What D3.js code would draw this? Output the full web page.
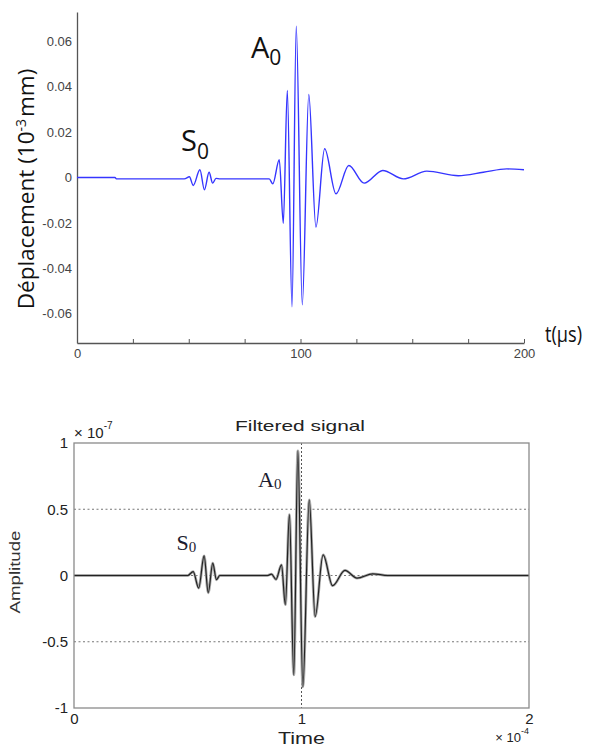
<!DOCTYPE html>
<html>
<head>
<meta charset="utf-8">
<script src="https://cdn.jsdelivr.net/npm/d3@7"></script>
<style>
  html, body { margin: 0; padding: 0; background: #fff; }
  svg { display: block; }
</style>
</head>
<body>
<svg id="chart" width="592" height="747"></svg>
<script>
// ---------- Data: top chart (simulated displacement, t in µs, 10^-3 mm) ----------
const topTime = [0, 17, 17.6, 48, 50.3, 52.0, 55.0, 57.0, 59.1, 60.7, 62.2, 64, 86,
  87.6, 90.5, 92.3, 94.1, 96.2, 98.1, 100.8, 103.7, 106.9, 110.8, 115.9, 121.6,
  128.5, 136.8, 146.0, 156.5, 170.6, 181.8, 192.3, 200];
const topDisp = [0, 0, -0.0006, -0.0006, 0.0003, -0.0035, 0.0034, -0.0054, 0.0023, -0.0025, -0.0004, -0.0006, -0.0006,
  -0.0028, 0.0078, -0.0202, 0.0384, -0.057, 0.0667, -0.0561, 0.0366, -0.0219, 0.0127, -0.0072, 0.0053,
  -0.0025, 0.0031, -0.0006, 0.0028, 0.0008, 0.0023, 0.0038, 0.0034];
const topYTicks = [0.06, 0.04, 0.02, 0, -0.02, -0.04, -0.06];
const topYTickLabels = ["0.06", "0.04", "0.02", "0", "-0.02", "-0.04", "-0.06"];
const topXTicks = [0, 25, 50, 75, 100, 125, 150, 175, 200];
const topXTickLabels = ["0", "", "", "", "100", "", "", "", "200"];

// ---------- Data: bottom chart (filtered signal, time in µs, amplitude in 10^-7) ----------
const botTime = [0, 50, 52.4, 54.8, 57.2, 59.0, 61.0, 62.6, 64.1, 85, 86.8, 88.8, 91.2, 92.9,
  94.7, 96.6, 98.4, 100.6, 103.4, 106.0, 109.5, 113.7, 119.1, 124.4, 131.3, 138, 200];
const botAmp = [0, 0, 0.03, -0.095, 0.148, -0.13, 0.093, -0.032, 0, 0, 0.01, -0.03, 0.08, -0.22,
  0.46, -0.75, 0.94, -0.84, 0.57, -0.31, 0.156, -0.077, 0.038, -0.02, 0.013, 0, 0];
const botYTicks = [1, 0.5, 0, -0.5, -1];
const botYTickLabels = ["1", "0.5", "0", "-0.5", "-1"];
const botXTicks = [0, 100, 200];
const botXTickLabels = ["0", "1", "2"];
const botGridY = [0.5, 0, -0.5];
const botGridX = [100];

const svg = d3.select("#chart");

// ================= TOP CHART =================
const xTop = d3.scaleLinear().domain([0, 200]).range([77, 524]);
const yTop = d3.scaleLinear().domain([-0.073, 0.073]).range([343, 12]);

const gTop = svg.append("g");

// y axis
const yAxisTop = d3.axisLeft(yTop).tickValues(topYTicks)
  .tickFormat((d, i) => topYTickLabels[i]).tickSize(0).tickPadding(5).tickSizeOuter(0);
const gya = gTop.append("g").attr("transform", `translate(${xTop(0)},0)`).call(yAxisTop);
gya.select(".domain").attr("stroke", "#555").attr("stroke-width", 1.3);
gya.selectAll("text").attr("font-family", "Liberation Sans, Arial, sans-serif")
  .attr("font-size", 13).attr("fill", "#444");

// x axis (ticks pointing up)
const xAxisTop = d3.axisBottom(xTop).tickValues(topXTicks)
  .tickFormat((d, i) => topXTickLabels[i]).tickSizeInner(-4).tickSizeOuter(0).tickPadding(6);
const gxa = gTop.append("g").attr("transform", `translate(0,${yTop(-0.073)})`).call(xAxisTop);
gxa.select(".domain").attr("stroke", "#555").attr("stroke-width", 1.3);
gxa.selectAll(".tick line").attr("stroke", "#555").attr("stroke-width", 1);
gxa.selectAll("text").attr("font-family", "Liberation Sans, Arial, sans-serif")
  .attr("font-size", 13).attr("fill", "#444");

// signal
const lineTop = d3.line()
  .x((d, i) => xTop(topTime[i]))
  .y(d => yTop(d))
  .curve(d3.curveMonotoneX);
gTop.append("path").datum(topDisp)
  .attr("d", lineTop)
  .attr("fill", "none")
  .attr("stroke", "#3535ff")
  .attr("stroke-width", 1.4);

// labels
const sansBig = "Open Sans, Noto Sans, sans-serif";
const tA = gTop.append("text").attr("x", 251).attr("y", 57.5)
  .attr("font-family", sansBig).attr("font-size", 29).attr("fill", "#111");
tA.append("tspan").text("A");
tA.append("tspan").attr("font-size", 21).attr("dy", 7.5).text("0");

const tS = gTop.append("text").attr("x", 181).attr("y", 151)
  .attr("font-family", sansBig).attr("font-size", 29).attr("fill", "#111");
tS.append("tspan").text("S");
tS.append("tspan").attr("font-size", 21).attr("dy", 7.5).text("0");

gTop.append("text").attr("x", 545).attr("y", 341.5)
  .attr("font-family", sansBig).attr("font-size", 21).attr("fill", "#111")
  .attr("textLength", 37).attr("lengthAdjust", "spacingAndGlyphs")
  .text("t(µs)");

const yl = gTop.append("text")
  .attr("transform", "translate(33.5,189) rotate(-90)")
  .attr("text-anchor", "middle")
  .attr("font-family", sansBig).attr("font-size", 22.5).attr("fill", "#111");
yl.append("tspan").text("Déplacement (10");
yl.append("tspan").attr("font-size", 14).attr("dy", -8).text("-3");
yl.append("tspan").attr("dy", 8).attr("dx", 2).text("mm)");

// ================= BOTTOM CHART =================
const xBot = d3.scaleLinear().domain([0, 200]).range([74, 529]);
const yBot = d3.scaleLinear().domain([-1, 1]).range([708, 443]);
const gBot = svg.append("g");
const sans = "Liberation Sans, Arial, sans-serif";

// grid lines (dotted)
gBot.selectAll(".gy").data(botGridY).enter().append("line")
  .attr("x1", xBot(0)).attr("x2", xBot(200))
  .attr("y1", d => yBot(d)).attr("y2", d => yBot(d))
  .attr("stroke", "#777").attr("stroke-width", 1).attr("stroke-dasharray", "2,2.5");
gBot.selectAll(".gx").data(botGridX).enter().append("line")
  .attr("x1", d => xBot(d)).attr("x2", d => xBot(d))
  .attr("y1", yBot(1)).attr("y2", yBot(-1))
  .attr("stroke", "#555").attr("stroke-width", 1).attr("stroke-dasharray", "2,2");

// signal: light grey halo + dark core
const lineBot = d3.line()
  .x((d, i) => xBot(botTime[i]))
  .y(d => yBot(d))
  .curve(d3.curveMonotoneX);
gBot.append("path").datum(botAmp).attr("d", lineBot)
  .attr("fill", "none").attr("stroke", "#aaa").attr("stroke-width", 2.8);
gBot.append("path").datum(botAmp).attr("d", lineBot)
  .attr("fill", "none").attr("stroke", "#222").attr("stroke-width", 1.2);

// frame
gBot.append("rect")
  .attr("x", xBot(0)).attr("y", yBot(1))
  .attr("width", xBot(200) - xBot(0)).attr("height", yBot(-1) - yBot(1))
  .attr("fill", "none").attr("stroke", "#8a8a8a").attr("stroke-width", 1.3);

// axes (labels only)
const yAxisBot = d3.axisLeft(yBot).tickValues(botYTicks)
  .tickFormat((d, i) => botYTickLabels[i]).tickSize(0).tickPadding(6);
const gyb = gBot.append("g").attr("transform", `translate(${xBot(0)},0)`).call(yAxisBot);
gyb.select(".domain").remove();
gyb.selectAll("text").attr("font-family", sans).attr("font-size", 15).attr("fill", "#222");

const xAxisBot = d3.axisBottom(xBot).tickValues(botXTicks)
  .tickFormat((d, i) => botXTickLabels[i]).tickSize(0).tickPadding(5);
const gxb = gBot.append("g").attr("transform", `translate(0,${yBot(-1)})`).call(xAxisBot);
gxb.select(".domain").remove();
gxb.selectAll("text").attr("font-family", sans).attr("font-size", 15).attr("fill", "#222");

// title
gBot.append("text").attr("x", 300).attr("y", 430.5).attr("text-anchor", "middle")
  .attr("font-family", sans).attr("font-size", 14.5).attr("fill", "#222")
  .attr("textLength", 130).attr("lengthAdjust", "spacingAndGlyphs")
  .text("Filtered signal");

// exponent labels
const e7 = gBot.append("text").attr("x", 74).attr("y", 438)
  .attr("font-family", sans).attr("font-size", 15).attr("fill", "#222");
e7.append("tspan").text("× 10");
e7.append("tspan").attr("font-size", 10).attr("dy", -9).text("-7");

const e4 = gBot.append("text").attr("x", 529).attr("y", 742).attr("text-anchor", "end")
  .attr("font-family", sans).attr("font-size", 13).attr("fill", "#222");
e4.append("tspan").text("× 10");
e4.append("tspan").attr("font-size", 9).attr("dy", -8).text("-4");

// axis titles
gBot.append("text").attr("x", 301.5).attr("y", 744).attr("text-anchor", "middle")
  .attr("font-family", sans).attr("font-size", 16).attr("fill", "#222")
  .attr("textLength", 47).attr("lengthAdjust", "spacingAndGlyphs")
  .text("Time");
gBot.append("text")
  .attr("transform", "translate(20,572) rotate(-90)")
  .attr("text-anchor", "middle")
  .attr("font-family", sans).attr("font-size", 15).attr("fill", "#333")
  .attr("textLength", 83).attr("lengthAdjust", "spacingAndGlyphs")
  .text("Amplitude");

// mode labels (serif)
const serif = "Liberation Serif, DejaVu Serif, serif";
const bA = gBot.append("text").attr("x", 258).attr("y", 486.5)
  .attr("font-family", serif).attr("font-size", 22).attr("fill", "#1c1c30");
bA.append("tspan").text("A");
bA.append("tspan").attr("font-size", 15).attr("dy", 2).text("0");
const bS = gBot.append("text").attr("x", 176.5).attr("y", 550)
  .attr("font-family", serif).attr("font-size", 22).attr("fill", "#1c1c30");
bS.append("tspan").text("S");
bS.append("tspan").attr("font-size", 15).attr("dy", 2).text("0");
</script>
</body>
</html>
